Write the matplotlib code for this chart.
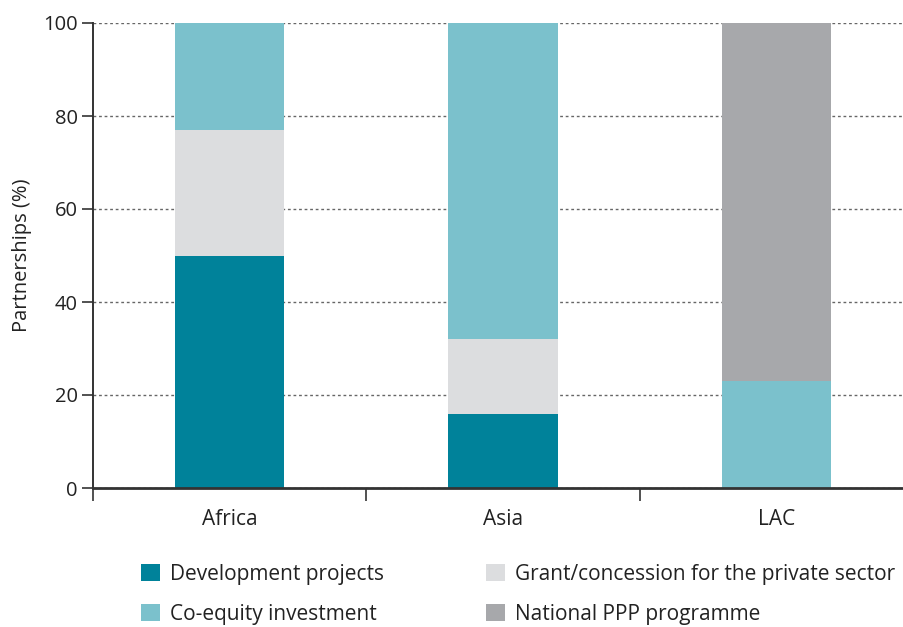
import numpy as np
import matplotlib.pyplot as plt
from matplotlib.patches import Patch

plt.rcParams['font.family'] = ['Open Sans', 'DejaVu Sans']

# %% data
regions = ['Africa', 'Asia', 'LAC']
series = ['Development projects', 'Grant/concession for the private sector',
          'Co-equity investment', 'National PPP programme']
dev = [50, 16, 0]
grant = [27, 16, 0]
coeq = [23, 68, 23]
ppp = [0, 0, 77]
colors = ['#00829a', '#dcdddf', '#7bc1cc', '#a7a8ab']
yticks = [0, 20, 40, 60, 80, 100]

# %% plot
fig = plt.figure(figsize=(9.04, 6.27), dpi=100)
ax = fig.add_axes([93 / 904, 139 / 627, 820 / 904, 465 / 627])

x = np.arange(len(regions))
bottom = np.zeros(len(regions))
for vals, col in zip([dev, grant, coeq, ppp], colors):
    ax.bar(x, vals, width=0.4, bottom=bottom, color=col, zorder=2)
    bottom += np.array(vals)

ax.set_xlim(-0.5, 2.5)
ax.set_ylim(0, 100)
ax.set_yticks(yticks)
ax.set_xticks(x)
ax.set_xticklabels(regions, fontsize=15, color='#222222')
ax.set_xticks([-0.5, 0.5, 1.5], minor=True)
ax.tick_params(axis='x', which='major', length=0, pad=15)
ax.tick_params(axis='x', which='minor', length=9, width=1.2, color='#333333', direction='out')
ax.tick_params(axis='y', length=8, width=1.2, color='#333333', labelsize=14.5, labelcolor='#222222', pad=3)
ax.grid(axis='y', linestyle=(0, (2, 2)), color='#666666', linewidth=1, zorder=0)
ax.set_axisbelow(True)

for s in ['top', 'right']:
    ax.spines[s].set_visible(False)
ax.spines['left'].set_color('#333333')
ax.spines['left'].set_linewidth(1.4)
ax.spines['bottom'].set_color('#333333')
ax.spines['bottom'].set_linewidth(2)
ax.spines['left'].set_bounds(0, 100)

ax.set_ylabel('Partnerships (%)', fontsize=14.5, color='#222222', labelpad=8)

# legend: column-wise order
order = [0, 2, 1, 3]
handles = [Patch(facecolor=colors[i], edgecolor='none') for i in order]
labels = [series[i] for i in order]
fig.legend(handles, labels, ncol=2, loc='upper left', bbox_to_anchor=(141 / 904, 1 - 564 / 627),
           frameon=False, fontsize=15, handlelength=0.9, handleheight=0.9, handletextpad=0.5,
           columnspacing=4.9, labelspacing=0.9, borderpad=0, borderaxespad=0,
           labelcolor='#222222')

plt.savefig('out.png', dpi=100)
